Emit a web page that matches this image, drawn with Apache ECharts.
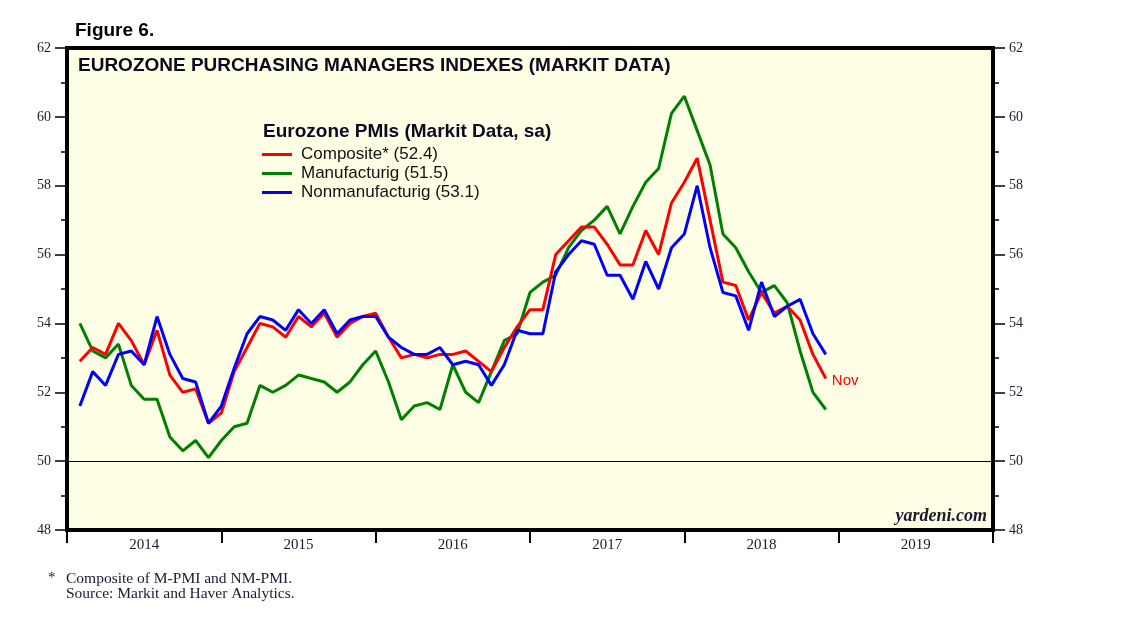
<!DOCTYPE html>
<html><head><meta charset="utf-8">
<script src="https://cdn.jsdelivr.net/npm/echarts@6/dist/echarts.min.js"></script>
<style>html,body{margin:0;padding:0;background:#fff}#c{width:1138px;height:621px}</style>
</head><body><div id="c"></div>
<script>
const years = ['2014','2015','2016','2017','2018','2019'];
// Monthly values Jan 2014 .. Nov 2018
const composite = [
52.9,53.3,53.1,54.0,53.5,52.8,53.8,52.5,52.0,52.1,51.1,51.4,
52.6,53.3,54.0,53.9,53.6,54.2,53.9,54.3,53.6,54.0,54.2,54.3,
53.6,53.0,53.1,53.0,53.1,53.1,53.2,52.9,52.6,53.3,53.9,54.4,
54.4,56.0,56.4,56.8,56.8,56.3,55.7,55.7,56.7,56.0,57.5,58.1,
58.8,57.0,55.2,55.1,54.1,54.9,54.3,54.5,54.1,53.1,52.4];
const manufacturing = [
54.0,53.2,53.0,53.4,52.2,51.8,51.8,50.7,50.3,50.6,50.1,50.6,
51.0,51.1,52.2,52.0,52.2,52.5,52.4,52.3,52.0,52.3,52.8,53.2,
52.3,51.2,51.6,51.7,51.5,52.8,52.0,51.7,52.6,53.5,53.7,54.9,
55.2,55.4,56.2,56.7,57.0,57.4,56.6,57.4,58.1,58.5,60.1,60.6,
59.6,58.6,56.6,56.2,55.5,54.9,55.1,54.6,53.2,52.0,51.5];
const services = [
51.6,52.6,52.2,53.1,53.2,52.8,54.2,53.1,52.4,52.3,51.1,51.6,
52.7,53.7,54.2,54.1,53.8,54.4,54.0,54.4,53.7,54.1,54.2,54.2,
53.6,53.3,53.1,53.1,53.3,52.8,52.9,52.8,52.2,52.8,53.8,53.7,
53.7,55.5,56.0,56.4,56.3,55.4,55.4,54.7,55.8,55.0,56.2,56.6,
58.0,56.2,54.9,54.8,53.8,55.2,54.2,54.5,54.7,53.7,53.1];
const seriesNames = ['Composite* (52.4)','Manufacturig (51.5)','Nonmanufacturig (53.1)'];
const seriesColors = ['#FF0000','#008000','#0000FF'];

const toPts = arr => arr.map((v,i)=>[i+1, v]);
const chart = echarts.init(document.getElementById('c'), null, {renderer:'canvas'});
const serif = 'Liberation Serif, Times New Roman, serif';
const sans = 'Liberation Sans, Arial, sans-serif';
const yAx = (pos) => ({
  type:'value', position:pos, min:48, max:62, interval:2,
  axisLine:{show:true, lineStyle:{color:'#000', width:4}},
  axisTick:{show:true, inside:false, length:12, lineStyle:{color:'#000', width:1.5}},
  minorTick:{show:true, splitNumber:2, length:6, lineStyle:{color:'#000', width:1.5}},
  axisLabel:{fontFamily:serif, fontSize:14, color:'#1a1a30', margin:16},
  splitLine:{show:false}
});
const mkSeries = (name, data, color, extra) => Object.assign({
  name, type:'line', xAxisIndex:1, data:toPts(data), showSymbol:false, symbol:'none',
  lineStyle:{color, width:3}, itemStyle:{color}, z:3
}, extra||{});

chart.setOption({
  animation:false,
  backgroundColor:'#ffffff',
  title:[
    {text:'Figure 6.', left:70, top:16, textStyle:{fontFamily:sans, fontWeight:'bold', fontSize:19, color:'#000'}},
    {text:'EUROZONE PURCHASING MANAGERS INDEXES (MARKIT DATA)', left:73, top:51, textStyle:{fontFamily:sans, fontWeight:'bold', fontSize:19, color:'#0a0a20'}}
  ],
  grid:{left:67, top:48, width:926, height:482, show:true, backgroundColor:'#FFFFE6', borderColor:'#000', borderWidth:4},
  legend:{
    orient:'vertical', left:257, top:141, itemWidth:30, itemHeight:3, itemGap:2,
    icon:'rect',
    data:seriesNames,
    textStyle:{fontFamily:sans, fontSize:17, color:'#111', padding:[0,0,0,4]}
  },
  xAxis:[
    {type:'category', data:years, position:'bottom', boundaryGap:true,
     axisLine:{show:true, lineStyle:{color:'#000', width:4}},
     axisTick:{show:true, inside:false, length:13, alignWithLabel:false, lineStyle:{color:'#000', width:2}},
     axisLabel:{fontFamily:serif, fontSize:15, color:'#1a1a30', margin:8},
     splitLine:{show:false}},
    {type:'value', min:0, max:72, show:false, position:'bottom'}
  ],
  yAxis:[yAx('left'), yAx('right')],
  series:[
    mkSeries(seriesNames[0], composite, seriesColors[0], {
      z:4,
      endLabel:{show:true, formatter:'Nov', color:'#FF0000', fontFamily:sans, fontSize:15, offset:[-2,2]},
      markLine:{silent:true, symbol:'none', label:{show:false}, lineStyle:{color:'#000', width:1.2, type:'solid'}, data:[{yAxis:50}]}
    }),
    mkSeries(seriesNames[1], manufacturing, seriesColors[1]),
    mkSeries(seriesNames[2], services, seriesColors[2], {z:5})
  ],
  graphic:[
    {type:'text', left:263, top:122, style:{text:'Eurozone PMIs (Markit Data, sa)', font:'bold 19px '+sans, fill:'#0a0a20'}},
    {type:'text', right:151, top:507, style:{text:'yardeni.com', font:'italic bold 18px '+serif, fill:'#1a1a30'}},
    {type:'text', left:48, top:571, style:{text:'*', font:'15px '+serif, fill:'#1a1a30'}},
    {type:'text', left:66, top:571, style:{text:'Composite of M-PMI and NM-PMI.', font:'15.5px '+serif, fill:'#1a1a30'}},
    {type:'text', left:66, top:586, style:{text:'Source: Markit and Haver Analytics.', font:'15.5px '+serif, fill:'#1a1a30'}}
  ]
});
</script></body></html>
